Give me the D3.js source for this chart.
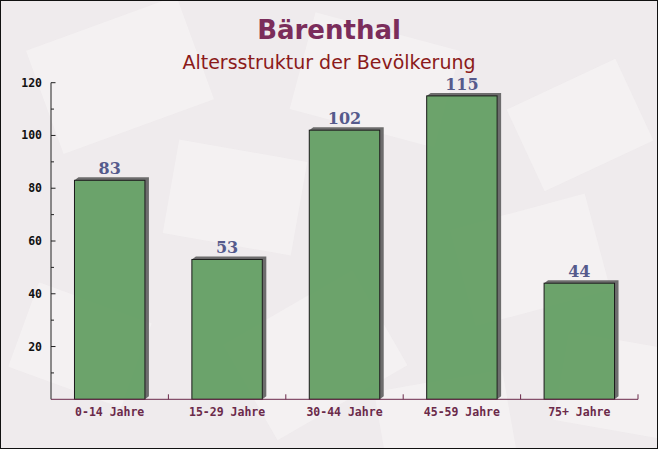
<!DOCTYPE html>
<html><head><meta charset="utf-8">
<script src="https://cdn.jsdelivr.net/npm/d3@7"></script>
<style>html,body{margin:0;padding:0;background:#fff;}svg{display:block;}</style>
</head><body>
<script>
const categories = ["0-14 Jahre","15-29 Jahre","30-44 Jahre","45-59 Jahre","75+ Jahre"];
const values = [83,53,102,115,44];
const yTicks = [20,40,60,80,100,120];
const title = "Bärenthal";
const subtitle = "Altersstruktur der Bevölkerung";

const W=658,H=449;
const m={left:51,right:20,top:83,bottom:50};
const svg=d3.select("body").append("svg").attr("width",W).attr("height",H);

// background
svg.append("rect").attr("width",W).attr("height",H).attr("fill","#efebed");
const deco=[[40,20,160,110,-20],[300,30,150,100,15],[520,80,120,90,-25],[170,150,130,95,10],[460,210,140,100,-15],[20,300,120,90,20],[240,300,150,110,-30],[560,340,110,90,10],[380,380,130,80,-10]];
svg.append("g").selectAll("rect").data(deco).join("rect")
 .attr("x",d=>d[0]).attr("y",d=>d[1]).attr("width",d=>d[2]).attr("height",d=>d[3])
 .attr("transform",d=>`rotate(${d[4]},${d[0]+d[2]/2},${d[1]+d[3]/2})`)
 .attr("fill","#faf8f8").attr("opacity",0.5);

const x=d3.scaleBand().domain(categories).range([m.left,W-m.right]).paddingInner(0.4).paddingOuter(0.2);
const xb=d3.scaleBand().domain(categories).range([m.left,W-m.right]);
const y=d3.scaleLinear().domain([0,120]).range([399.3,82.7]);

// title
svg.append("text").attr("x",329).attr("y",38.5).attr("text-anchor","middle")
 .attr("font-family","'DejaVu Sans',sans-serif").attr("font-weight","bold").attr("font-size",26)
 .attr("fill","#7b2d5b").text(title);
svg.append("text").attr("x",329).attr("y",68.5).attr("text-anchor","middle")
 .attr("font-family","'DejaVu Sans',sans-serif").attr("font-size",19)
 .attr("fill","#8b1a1a").text(subtitle);

// bars with 3D shadow
const dx=4,dy=3;
const g=svg.append("g");
values.forEach((v,i)=>{
  const x0=x(categories[i]),bw=x.bandwidth(),yt=y(v),yb=y(0);
  g.append("path").attr("d",`M${x0},${yt} L${x0+dx},${yt-dy} L${x0+bw+dx},${yt-dy} L${x0+bw+dx},${yb-dy} L${x0+bw},${yb} L${x0+bw},${yt} Z`)
   .attr("fill","#5e5e5e").attr("opacity",0.9);
  g.append("rect").attr("x",x0).attr("y",yt).attr("width",bw).attr("height",yb-yt)
   .attr("fill","#5f9c5f").attr("fill-opacity",0.92).attr("stroke","#1a1a1a").attr("stroke-width",1);
  g.append("text").attr("x",x0+bw/2).attr("y",yt-6).attr("text-anchor","middle")
   .attr("font-family","'DejaVu Serif',serif").attr("font-weight","bold").attr("font-size",16)
   .attr("fill","#555a8c").text(v);
});

// y axis
const ya=svg.append("g").attr("transform",`translate(${m.left},0)`);
ya.append("line").attr("y1",y(0)).attr("y2",y(120)).attr("stroke","#222");
const minor=d3.range(10,121,10);
ya.selectAll("line.t").data(minor).join("line").attr("class","t")
 .attr("x1",0).attr("x2",d=>d%20===0?4.5:3).attr("y1",d=>y(d)).attr("y2",d=>y(d)).attr("stroke","#222");
ya.selectAll("text").data(yTicks).join("text")
 .attr("x",-9).attr("y",d=>y(d)+4).attr("text-anchor","end")
 .attr("font-family","'DejaVu Sans Mono',monospace").attr("font-weight","bold").attr("font-size",11.5)
 .attr("fill","#111").text(d=>d);

// x axis
const xa=svg.append("g");
xa.append("line").attr("x1",m.left).attr("x2",W-m.right).attr("y1",y(0)).attr("y2",y(0)).attr("stroke","#6b2a4a");
xa.selectAll("line.t").data(categories).join("line").attr("class","t")
 .attr("x1",d=>xb(d)+xb.bandwidth()).attr("x2",d=>xb(d)+xb.bandwidth())
 .attr("y1",y(0)).attr("y2",y(0)-5).attr("stroke","#6b2a4a");
xa.selectAll("text").data(categories).join("text")
 .attr("x",d=>x(d)+x.bandwidth()/2).attr("y",416).attr("text-anchor","middle")
 .attr("font-family","'DejaVu Sans Mono',monospace").attr("font-weight","bold").attr("font-size",11.5)
 .attr("fill","#6b2a4a").text(d=>d);

// border
svg.append("rect").attr("x",0.5).attr("y",0.5).attr("width",W-1).attr("height",H-1)
 .attr("fill","none").attr("stroke","#111");
</script>
</body></html>
